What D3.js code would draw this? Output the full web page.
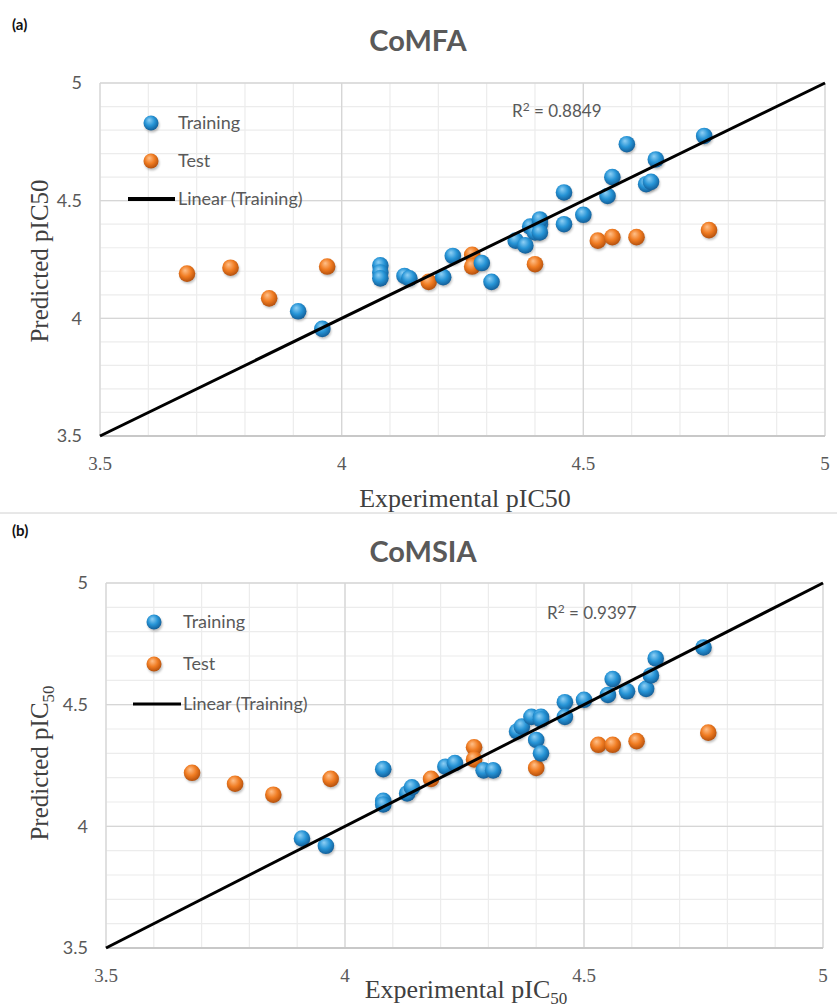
<!DOCTYPE html>
<html>
<head>
<meta charset="utf-8">
<script src="https://cdn.jsdelivr.net/npm/d3@7"></script>
<style>
  body { margin: 0; background: #fff; }
  svg text { fill: #595959; }
</style>
</head>
<body>
<div id="chart"></div>
<script>
// ---- data ----
var axisTicks = [3.5, 4, 4.5, 5];
var tickLabels = ["3.5", "4", "4.5", "5"];
var trendX = [3.5, 5];
var trendY = [3.5, 5];

// (a) CoMFA
var comfaTrainX = [3.91, 3.96, 4.08, 4.08, 4.08, 4.13, 4.14, 4.21, 4.23, 4.29, 4.31, 4.36, 4.38, 4.39, 4.40, 4.41, 4.41, 4.41, 4.46, 4.46, 4.50, 4.55, 4.56, 4.59, 4.63, 4.64, 4.65, 4.75];
var comfaTrainY = [4.03, 3.955, 4.225, 4.195, 4.17, 4.18, 4.17, 4.175, 4.265, 4.235, 4.155, 4.33, 4.31, 4.39, 4.365, 4.40, 4.42, 4.365, 4.535, 4.40, 4.44, 4.52, 4.60, 4.74, 4.57, 4.58, 4.675, 4.775];
var comfaTestX = [3.68, 3.77, 3.85, 3.97, 4.18, 4.27, 4.27, 4.40, 4.53, 4.56, 4.61, 4.76];
var comfaTestY = [4.19, 4.215, 4.085, 4.22, 4.155, 4.27, 4.22, 4.23, 4.33, 4.345, 4.345, 4.375];

// (b) CoMSIA
var comsiaTrainX = [3.91, 3.96, 4.08, 4.08, 4.08, 4.13, 4.14, 4.21, 4.23, 4.29, 4.31, 4.36, 4.37, 4.39, 4.40, 4.41, 4.41, 4.41, 4.46, 4.46, 4.50, 4.55, 4.56, 4.59, 4.63, 4.64, 4.65, 4.75];
var comsiaTrainY = [3.95, 3.92, 4.235, 4.105, 4.09, 4.135, 4.16, 4.245, 4.26, 4.23, 4.23, 4.39, 4.41, 4.45, 4.355, 4.45, 4.30, 4.44, 4.51, 4.45, 4.52, 4.54, 4.605, 4.555, 4.565, 4.62, 4.69, 4.735];
var comsiaTestX = [3.68, 3.77, 3.85, 3.97, 4.18, 4.27, 4.27, 4.40, 4.53, 4.56, 4.61, 4.76];
var comsiaTestY = [4.22, 4.175, 4.13, 4.195, 4.195, 4.325, 4.275, 4.24, 4.335, 4.335, 4.35, 4.385];

var W = 837, H = 1007;
var sans = "Lato, 'Open Sans', sans-serif";
var serif = "'Liberation Serif', 'DejaVu Serif', serif";

var svg = d3.select("#chart").append("svg")
    .attr("width", W)
    .attr("height", H);

// 3D-ish sphere markers
var defs = svg.append("defs");
function sphere(id, c0, c1, c2) {
  var g = defs.append("radialGradient").attr("id", id)
      .attr("cx", "45%").attr("cy", "40%").attr("r", "60%")
      .attr("fx", "38%").attr("fy", "30%");
  g.append("stop").attr("offset", "0%").attr("stop-color", c0);
  g.append("stop").attr("offset", "55%").attr("stop-color", c1);
  g.append("stop").attr("offset", "100%").attr("stop-color", c2);
}
sphere("blueBall", "#8fd0f5", "#2694d6", "#135e98");
sphere("orangeBall", "#ffc08a", "#f07c22", "#b5500c");
var blur = defs.append("filter").attr("id", "shadow")
    .attr("x", "-50%").attr("y", "-50%").attr("width", "200%").attr("height", "200%");
blur.append("feGaussianBlur").attr("stdDeviation", 1.2);

// divider between the two panels
svg.append("line")
    .attr("x1", 0).attr("x2", W).attr("y1", 513).attr("y2", 513)
    .attr("stroke", "#d0d0d0").attr("stroke-width", 1);

function drawPanel(p) {
  var x = d3.scaleLinear().domain([3.5, 5]).range([p.left, p.right]);
  var y = d3.scaleLinear().domain([3.5, 5]).range([p.bottom, p.top]);
  var g = svg.append("g");

  // minor grid
  var minor = x.ticks(15);
  g.selectAll(".vmin").data(minor).enter().append("line")
      .attr("x1", function(d) { return x(d); }).attr("x2", function(d) { return x(d); })
      .attr("y1", p.top).attr("y2", p.bottom)
      .attr("stroke", "#ececec").attr("stroke-width", 1.2);
  g.selectAll(".hmin").data(minor).enter().append("line")
      .attr("y1", function(d) { return y(d); }).attr("y2", function(d) { return y(d); })
      .attr("x1", p.left).attr("x2", p.right)
      .attr("stroke", "#ececec").attr("stroke-width", 1.2);
  // major grid
  g.selectAll(".vmaj").data(axisTicks).enter().append("line")
      .attr("x1", function(d) { return x(d); }).attr("x2", function(d) { return x(d); })
      .attr("y1", p.top).attr("y2", p.bottom)
      .attr("stroke", "#d6d6d6").attr("stroke-width", 1.3);
  g.selectAll(".hmaj").data(axisTicks).enter().append("line")
      .attr("y1", function(d) { return y(d); }).attr("y2", function(d) { return y(d); })
      .attr("x1", p.left).attr("x2", p.right)
      .attr("stroke", "#d6d6d6").attr("stroke-width", 1.3);
  // bottom axis line
  g.append("line")
      .attr("x1", p.left).attr("x2", p.right).attr("y1", p.bottom).attr("y2", p.bottom)
      .attr("stroke", "#c8c8c8").attr("stroke-width", 2);

  // tick labels
  g.selectAll(".ytl").data(axisTicks).enter().append("text")
      .attr("x", p.left - 18).attr("y", function(d) { return y(d); })
      .attr("dy", "0.35em").attr("text-anchor", "end")
      .style("font-family", sans).style("font-size", "18px")
      .text(function(d, i) { return tickLabels[i]; });
  g.selectAll(".xtl").data(axisTicks).enter().append("text")
      .attr("x", function(d) { return x(d); }).attr("y", p.xTickY)
      .attr("dy", "0.35em").attr("text-anchor", "middle")
      .style("font-family", serif).style("font-size", "19px")
      .text(function(d, i) { return tickLabels[i]; });

  // titles
  svg.append("text").attr("x", 12).attr("y", p.tagY)
      .style("font-family", sans).style("font-weight", "bold").style("font-size", "15px")
      .style("fill", "#111").text(p.tag);
  svg.append("text").attr("x", p.titleX).attr("y", p.titleY)
      .attr("text-anchor", "middle")
      .style("font-family", sans).style("font-weight", "bold").style("font-size", "29px")
      .style("fill", "#595959").text(p.title);

  // axis titles
  var xl = svg.append("text").attr("x", p.xLabelX).attr("y", p.xLabelY)
      .attr("text-anchor", "middle")
      .style("font-family", serif).style("font-size", "26px").style("fill", "#404040");
  xl.append("tspan").text(p.sub ? "Experimental pIC" : "Experimental pIC50");
  if (p.sub) xl.append("tspan").attr("dy", 6).style("font-size", "17px").text("50");

  var yl = svg.append("text")
      .attr("transform", "translate(" + p.yLabelX + "," + p.yLabelY + ") rotate(-90)")
      .attr("text-anchor", "middle")
      .style("font-family", serif).style("font-size", "25px").style("fill", "#404040");
  yl.append("tspan").text(p.sub ? "Predicted pIC" : "Predicted pIC50");
  if (p.sub) yl.append("tspan").attr("dy", 6).style("font-size", "17px").text("50");

  // trend line
  var line = d3.line().x(function(d) { return x(d[0]); }).y(function(d) { return y(d[1]); });
  var trend = d3.zip(trendX, trendY);

  // points
  function dots(xs, ys, fill) {
    var pts = d3.zip(xs, ys);
    g.selectAll(null).data(pts).enter().append("circle")
        .attr("cx", function(d) { return x(d[0]) + 1; })
        .attr("cy", function(d) { return y(d[1]) + 2; })
        .attr("r", 8).attr("fill", "rgba(0,0,0,0.25)").attr("filter", "url(#shadow)");
    g.selectAll(null).data(pts).enter().append("circle")
        .attr("cx", function(d) { return x(d[0]); })
        .attr("cy", function(d) { return y(d[1]); })
        .attr("r", 8.3).attr("fill", fill);
  }
  dots(p.testX, p.testY, "url(#orangeBall)");
  dots(p.trainX, p.trainY, "url(#blueBall)");

  g.append("path").datum(trend).attr("d", line)
      .attr("fill", "none").attr("stroke", "#000").attr("stroke-width", 3);

  // R² label
  var r = g.append("text").attr("x", p.r2X).attr("y", p.r2Y).attr("dy", "0.35em")
      .style("font-family", sans).style("font-size", "17px");
  r.append("tspan").text("R");
  r.append("tspan").attr("dy", -6).style("font-size", "12px").text("2");
  r.append("tspan").attr("dy", 6).text(" = " + p.r2);

  // legend
  var lg = g.append("g");
  [["Training", "url(#blueBall)", p.legY[0]], ["Test", "url(#orangeBall)", p.legY[1]]].forEach(function(e) {
    lg.append("circle").attr("cx", p.legMarkX + 1).attr("cy", e[2] + 2).attr("r", 7.5)
        .attr("fill", "rgba(0,0,0,0.25)").attr("filter", "url(#shadow)");
    lg.append("circle").attr("cx", p.legMarkX).attr("cy", e[2]).attr("r", 7.5).attr("fill", e[1]);
    lg.append("text").attr("x", p.legTextX).attr("y", e[2]).attr("dy", "0.35em")
        .style("font-family", sans).style("font-size", "18px").text(e[0]);
  });
  lg.append("line").attr("x1", p.legLine[0]).attr("x2", p.legLine[1])
      .attr("y1", p.legY[2]).attr("y2", p.legY[2])
      .attr("stroke", "#000").attr("stroke-width", p.legLineW);
  lg.append("text").attr("x", p.legTextX).attr("y", p.legY[2]).attr("dy", "0.35em")
      .style("font-family", sans).style("font-size", "18px").text("Linear (Training)");
}

drawPanel({
  left: 100, right: 825, top: 83, bottom: 436,
  xTickY: 463, tag: "(a)", tagY: 30, title: "CoMFA", titleX: 418, titleY: 51,
  xLabelX: 465, xLabelY: 507, yLabelX: 48, yLabelY: 261, sub: false,
  trainX: comfaTrainX, trainY: comfaTrainY, testX: comfaTestX, testY: comfaTestY,
  r2: "0.8849", r2X: 512, r2Y: 111,
  legMarkX: 151, legTextX: 178, legY: [123, 161, 199], legLine: [128, 175], legLineW: 4
});

drawPanel({
  left: 106, right: 823, top: 583, bottom: 948,
  xTickY: 975, tag: "(b)", tagY: 536, title: "CoMSIA", titleX: 423, titleY: 562,
  xLabelX: 466, xLabelY: 998, yLabelX: 48, yLabelY: 763, sub: true,
  trainX: comsiaTrainX, trainY: comsiaTrainY, testX: comsiaTestX, testY: comsiaTestY,
  r2: "0.9397", r2X: 547, r2Y: 613,
  legMarkX: 154, legTextX: 183, legY: [622, 664, 704], legLine: [133, 181], legLineW: 3
});
</script>
</body>
</html>
